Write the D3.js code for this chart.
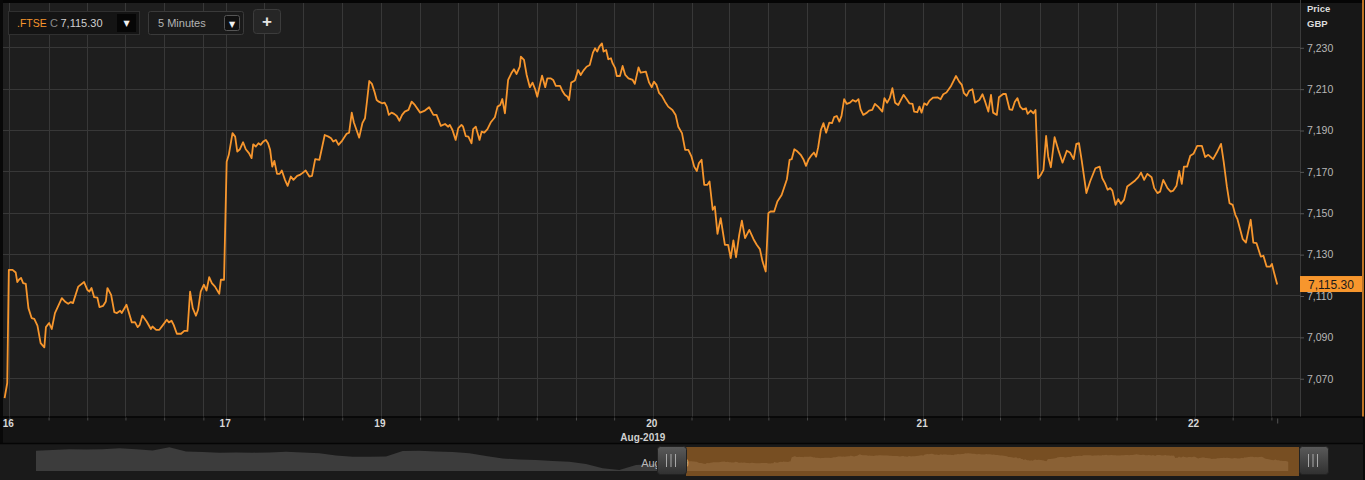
<!DOCTYPE html>
<html><head><meta charset="utf-8">
<script src="https://cdn.jsdelivr.net/npm/d3@7"></script>
<style>
html,body{margin:0;padding:0;background:#1a1a1a;overflow:hidden;}
svg{display:block;font-family:"Liberation Sans",Arial,sans-serif;}
</style></head><body>
<svg id="c" width="1365" height="480"></svg>
<script>
// minutes from first bar
const times = [0,5,8,15,21,24,27,31,35,40,45,51,56,62,68,75,78,84,89,95,108,115,120,125,129,139,150,156,160,164,169,175,179,186,191,194,201,207,212,218,221,230,240,246,251,255,260,268,276,279,286,292,299,306,310,315,319,325,333,339,345,350,355,361,365,370,376,381,386,391,397,405,408,414,
419,423,430,435,439,444,450,455,461,466,469,474,479,483,488,493,497,501,505,509,514,519,523,529,534,540,545,552,557,560,568,575,580,586,594,604,611,616,620,625,630,637,645,650,655,659,664,669,675,680,684,688,693,698,702,706,712,717,721,725,730,735,740,745,750,755,762,768,774,784,793,801,809,815,823,831,837,
840,845,851,856,862,865,870,875,881,884,889,896,900,905,911,917,925,930,935,939,944,950,956,961,966,972,974,980,985,991,996,1001,1005,1010,1014,1020,1024,1030,1035,1040,1048,1053,1057,1062,1065,1069,1076,1082,1087,1092,1098,1104,1110,1114,1118,1122,1127,1130,1135,1139,1144,1147,1152,1155,1161,1166,1171,1177,1185,1189,1196,1200,1210,1216,1221,1225,1230,1235,1240,1246,1252,1260,1266,1271,1278,1284,1290,1296,1301,1306,1310,1315,1320,1326,1330,1336,1340,1345,1351,1359,1365,1370,1375,1380,1386,1391,1397,1405,1413,1419,1425,1430,1436,
1441,1445,1452,1458,1466,1476,1481,1485,1490,1496,1502,1507,1512,1517,1523,1527,1531,1535,1540,1545,1550,1556,1561,1565,1570,1575,1579,1584,1589,1595,1600,1606,1611,1615,1620,1627,1631,1637,1642,1648,1656,1660,1665,1670,1675,1680,1686,1696,1702,1707,1713,1716,1722,1726,1730,1735,1740,1745,1752,1760,1766,1771,1777,1785,1795,1801,1806,1810,1815,1820,1826,1831,1839,1845,1850,1856,1861,1865,1872,1876,1884,1889,1896,1901,1906,1911,1916,1921,1927,1930,1936,1941,1945,
1950,1955,1960,1965,1969,1974,1981,1988,1996,2004,2010,2017,2022,2027,2032,2041,2048,2058,2066,2071,2076,2081,2086,2090,2096,2101,2106,2112,2118,2125,2133,2139,2144,2150,2156,2164,2169,2175,2180,2186,2194,2200,2205,2211,2216,2221,2225,2231,2237,2243,2250,2259,2265,2271,2280,2287,2295,2300,2306,2311,2317,2322,2326,2336,2342,2347,2351,2356,2362,2370,2375,2381,2388,2391,2395,2401];
const prices = [7060.4,7067.7,7122.4,7122.4,7121.1,7116.5,7117.6,7118.5,7116.0,7115.6,7103.9,7099.1,7098.7,7095.4,7087.0,7084.9,7094.7,7096.7,7093.8,7101.5,7108.7,7106.8,7106.0,7106.8,7106.3,7114.3,7116.5,7112.8,7111.9,7113.6,7109.2,7109.0,7104.4,7105.0,7107.1,7113.6,7110.3,7102.0,7101.5,7102.6,7101.5,7105.5,7097.0,7097.1,7094.7,7095.8,7100.3,7097.4,7093.8,7095.0,7093.4,7093.4,7095.8,7098.3,7097.0,7097.8,7095.8,7091.5,7091.5,7092.9,7092.9,7111.9,7103.9,7100.2,7103.1,7111.9,7115.2,7112.4,7118.9,7116.0,7114.3,7110.8,7117.6,7117.6,
7174.7,7178.0,7188.5,7186.8,7179.6,7180.7,7184.1,7180.7,7178.8,7176.4,7183.1,7182.0,7183.6,7182.8,7184.4,7185.2,7183.6,7180.4,7172.3,7175.1,7168.8,7168.8,7170.4,7165.9,7163.0,7167.5,7165.9,7167.8,7168.3,7168.8,7170.4,7167.5,7167.8,7175.9,7175.6,7187.6,7186.8,7186.0,7184.4,7185.2,7182.8,7184.9,7188.1,7188.7,7198.4,7193.6,7190.0,7186.3,7193.3,7195.7,7204.5,7213.7,7212.3,7208.4,7204.5,7203.7,7202.9,7203.2,7201.3,7197.3,7198.4,7197.8,7196.8,7194.5,7197.3,7198.9,7199.7,7203.7,7202.1,7198.4,7199.4,7201.0,7197.3,7197.3,7192.0,7192.9,7191.6,
7192.5,7190.0,7185.2,7190.9,7192.5,7191.6,7187.1,7186.8,7183.6,7190.4,7191.6,7185.2,7189.2,7188.7,7190.4,7193.6,7196.2,7201.3,7202.1,7205.0,7198.1,7214.2,7217.4,7219.4,7217.1,7220.6,7225.5,7223.9,7216.6,7210.7,7212.9,7209.7,7206.1,7211.8,7216.3,7210.7,7215.0,7215.0,7214.2,7211.3,7211.3,7208.6,7207.0,7206.1,7204.5,7212.9,7213.9,7219.0,7216.6,7218.7,7220.6,7221.4,7227.4,7229.5,7227.9,7230.3,7231.9,7227.9,7228.7,7224.2,7224.7,7222.3,7219.9,7216.1,7216.1,7221.0,7216.6,7215.0,7214.2,7212.3,7220.3,7217.7,7218.2,7212.9,7210.7,7213.4,7211.8,7207.8,7206.5,7203.7,7201.3,7199.7,7197.3,7191.6,7188.5,7180.4,7180.4,7177.1,7172.3,7170.2,7174.0,7175.6,7163.5,7163.5,7165.1,7151.4,7153.0,7139.8,7147.4,7134.5,7134.5,7128.1,7136.6,7128.5,7139.3,7146.2,7137.7,7141.7,7137.2,7134.5,7132.4,7126.4,7121.6,
7149.8,7150.6,7150.6,7155.4,7158.6,7166.2,7175.6,7175.9,7180.7,7179.6,7178.0,7175.9,7172.7,7175.9,7178.0,7179.1,7177.1,7181.7,7190.0,7193.3,7188.7,7193.6,7193.3,7196.2,7196.8,7194.1,7196.8,7204.9,7202.6,7203.2,7204.5,7203.7,7204.9,7200.0,7197.3,7198.4,7199.4,7199.7,7202.6,7201.3,7198.9,7205.4,7203.2,7205.4,7210.2,7203.2,7202.1,7207.0,7204.9,7202.9,7202.6,7198.9,7198.6,7201.3,7198.4,7202.9,7202.1,7204.2,7205.7,7205.8,7204.9,7207.3,7208.1,7211.0,7216.1,7213.4,7211.8,7207.8,7206.5,7209.0,7209.7,7203.2,7204.5,7207.3,7203.7,7198.9,7207.0,7198.4,7197.3,7205.8,7207.4,7207.4,7200.0,7199.7,7203.7,7205.4,7201.3,7200.0,7200.5,7197.8,7199.4,7198.1,7199.7,
7166.7,7168.3,7170.7,7187.1,7177.1,7172.0,7186.5,7180.4,7174.2,7180.0,7179.1,7175.9,7183.3,7183.6,7175.6,7159.5,7165.1,7171.5,7172.3,7166.7,7164.3,7161.1,7161.9,7160.7,7153.8,7156.6,7154.3,7156.2,7162.7,7164.0,7165.6,7167.2,7169.4,7165.9,7168.8,7167.2,7161.9,7159.5,7160.2,7165.9,7161.9,7160.2,7160.7,7163.0,7170.2,7164.0,7172.3,7172.3,7177.5,7178.5,7182.3,7182.3,7176.9,7178.0,7175.9,7179.1,7183.3,7174.7,7162.7,7154.6,7153.8,7149.0,7146.9,7137.2,7135.6,7141.7,7146.6,7135.6,7135.3,7128.8,7129.2,7124.0,7124.0,7125.3,7121.1,7115.3];

const gridTimes = [9,83,156,228,301,375,418,490,563,637,710,784,856,930,1004,1078,1150,1223,1296,1367,1441,1514,1586,1659,1733,1806,1878,1953,2026,2098,2172,2245,2317,2390];
const dayTicks = [9,418,710,1223,1733,2245];
const dayLabels = ["16","17","19","20","21","22"];
const monthLabel = "Aug-2019";
const priceTicks = [7070,7090,7110,7130,7150,7170,7190,7210,7230];
const lastPrice = 7115.30;
const navHistory = [7266,7276,7285,7282,7285,7299,7285,7269,7313,7255,7248,7239,7241,7239,7241,7252,7241,7230,7200,7184,7184,7187,7262,7266,7255,7248,7230,7194,7159,7146,7139,7125,7115,7084,7025,7002,7070,7084,7098,7080];

const ORANGE = "#f7962d";
const svg = d3.select("#c");
const L = 3, R = 1300, T = 3, B = 416.5;

const data = times.map((t,i)=>({t, p: prices[i]}));
const x = d3.scaleLinear().domain([-3, 2444]).range([L, R]);
const y = d3.scaleLinear().domain([7051.5, 7251.4]).range([B, T]);

// backgrounds
svg.append("rect").attr("width",1365).attr("height",480).attr("fill","#1a1a1a");
svg.append("rect").attr("x",0).attr("y",0).attr("width",1365).attr("height",3).attr("fill","#050505");
svg.append("rect").attr("x",0).attr("y",0).attr("width",3).attr("height",443).attr("fill","#080808");
svg.append("rect").attr("x",L).attr("y",T).attr("width",R-L).attr("height",B-T).attr("fill","#1e1e1e");
svg.append("rect").attr("x",R).attr("y",T).attr("width",62).attr("height",B-T).attr("fill","#171717");
// bottom axis band
svg.append("rect").attr("x",3).attr("y",B).attr("width",1360).attr("height",443-B).attr("fill","#141414");
svg.append("line").attr("x1",0).attr("x2",1363).attr("y1",B+0.5).attr("y2",B+0.5).attr("stroke","#050505").attr("stroke-width",1.5);
svg.append("line").attr("x1",0).attr("x2",1365).attr("y1",443.5).attr("y2",443.5).attr("stroke","#050505").attr("stroke-width",1.5);
svg.append("rect").attr("x",1363).attr("y",0).attr("width",2).attr("height",480).attr("fill","#0a0a0a");

// gridlines
const grid = svg.append("g");
grid.selectAll(".h").data(priceTicks).join("line")
  .attr("x1",L).attr("x2",R).attr("y1",d=>Math.round(y(d))+0.5).attr("y2",d=>Math.round(y(d))+0.5)
  .attr("stroke","#383838").attr("stroke-width",1);
grid.selectAll(".v").data(gridTimes).join("line")
  .attr("x1",d=>Math.round(x(d))+0.5).attr("x2",d=>Math.round(x(d))+0.5).attr("y1",T).attr("y2",B)
  .attr("stroke","#383838").attr("stroke-width",1);

// bottom axis small ticks
const tickAxis = d3.axisBottom(x).tickValues(gridTimes).tickSize(3).tickFormat("");
const gt = svg.append("g").attr("transform",`translate(0,${B+1})`).call(tickAxis);
gt.select(".domain").remove();
gt.selectAll("line").attr("stroke","#4a4a4a");

// day labels
const dayAxis = d3.axisBottom(x).tickValues(dayTicks).tickSize(0).tickPadding(3)
  .tickFormat((d,i)=>dayLabels[i]);
const gd = svg.append("g").attr("transform",`translate(-1.5,${B})`).call(dayAxis);
gd.select(".domain").remove();
gd.selectAll("text").attr("fill","#d8d8d8").attr("font-size",10).attr("font-weight","bold")
  .attr("font-family","Liberation Sans, Arial, sans-serif");
svg.append("text").attr("x",x(dayTicks[3])-10).attr("y",441).attr("text-anchor","middle")
  .attr("fill","#d0d0d0").attr("font-size",10).attr("font-weight","bold").text(monthLabel);
// last point marker tick
svg.append("line").attr("x1",x(times[times.length-1])+0.5).attr("x2",x(times[times.length-1])+0.5)
  .attr("y1",B+2).attr("y2",B+7).attr("stroke","#555");

// right axis
svg.append("line").attr("x1",R+0.5).attr("x2",R+0.5).attr("y1",0).attr("y2",B).attr("stroke","#3a3a3a");
const yAxis = d3.axisRight(y).tickValues(priceTicks).tickSize(4).tickPadding(3).tickFormat(d3.format(","));
const gy = svg.append("g").attr("transform",`translate(${R},0.5)`).call(yAxis);
gy.select(".domain").remove();
gy.selectAll("line").attr("stroke","#555");
gy.selectAll("text").attr("fill","#b8b8b8").attr("font-size",10.5).attr("font-family","Liberation Sans, Arial, sans-serif");
svg.append("text").attr("x",1307).attr("y",12).attr("fill","#dcdcdc").attr("font-size",9.5).attr("font-weight","bold").text("Price");
svg.append("text").attr("x",1307).attr("y",27).attr("fill","#dcdcdc").attr("font-size",9.5).attr("font-weight","bold").text("GBP");
svg.append("line").attr("x1",1363).attr("x2",1363).attr("y1",0).attr("y2",B).attr("stroke",ORANGE).attr("stroke-width",1.5);

// main line
const line = d3.line().x(d=>x(d.t)).y(d=>y(d.p));
svg.append("path").datum(data).attr("d",line).attr("fill","none")
  .attr("stroke",ORANGE).attr("stroke-width",1.8).attr("stroke-linejoin","round");

// last value label
const ly = y(lastPrice);
svg.append("rect").attr("x",R).attr("y",ly-8.5).attr("width",62).attr("height",16).attr("fill",ORANGE);
svg.append("text").attr("x",1308).attr("y",ly).attr("dy","0.36em").attr("fill","#1a1a1a")
  .attr("font-size",12).text(d3.format(",.2f")(lastPrice));

// navigator
const NB = 471, NT = 446;
const yNav = d3.scaleLinear().domain([6988, 7330]).range([NB, NT]);
const xHist = d3.scaleLinear().domain([0, navHistory.length-1]).range([36, 686]);
const xNavMain = d3.scaleLinear().domain(x.domain()).range([686, 1299]);
const histArea = d3.area().x((d,i)=>xHist(i)).y0(NB).y1(d=>yNav(d));
const mainArea = d3.area().x(d=>xNavMain(d.t)).y0(NB).y1(d=>yNav(d.p));
svg.append("path").datum(navHistory).attr("d",histArea).attr("fill","#3c3c3c");
svg.append("path").datum(data).attr("d",mainArea).attr("fill","#3c3c3c");
svg.append("text").attr("x",665).attr("y",467).attr("text-anchor","middle").attr("fill","#b8b8b8")
  .attr("font-size",11).text(monthLabel);
svg.append("rect").attr("x",686).attr("y",447).attr("width",613).attr("height",29)
  .attr("fill",ORANGE).attr("opacity",0.42);

const defs = svg.append("defs");
const gr = defs.append("linearGradient").attr("id","hg").attr("x1",0).attr("x2",0).attr("y1",0).attr("y2",1);
gr.append("stop").attr("offset","0%").attr("stop-color","#5a5a5a");
gr.append("stop").attr("offset","100%").attr("stop-color","#303030");
[657, 1299].forEach(hx=>{
  svg.append("rect").attr("x",hx+0.5).attr("y",446.5).attr("width",29).attr("height",28).attr("rx",3)
    .attr("fill","url(#hg)").attr("stroke","#222");
  [9.5,14,18.5].forEach(o=>{
    svg.append("line").attr("x1",hx+o).attr("x2",hx+o).attr("y1",454).attr("y2",467)
      .attr("stroke","#a8a8a8").attr("stroke-width",1);
  });
});

// top-left controls
const ctl = svg.append("g");
ctl.append("rect").attr("x",8.5).attr("y",11.5).attr("width",131).attr("height",23)
  .attr("fill","#141414").attr("stroke","#303030");
ctl.append("text").attr("x",17).attr("y",27).attr("fill",ORANGE).attr("font-size",10.5).text(".FTSE");
ctl.append("text").attr("x",50).attr("y",27).attr("fill","#8a8a8a").attr("font-size",11).text("C");
ctl.append("text").attr("x",60.5).attr("y",27).attr("fill","#d0d0d0").attr("font-size",11).text("7,115.30");
ctl.append("rect").attr("x",117).attr("y",14).attr("width",19).attr("height",18).attr("fill","#060606");
ctl.append("text").attr("x",126.5).attr("y",26).attr("text-anchor","middle").attr("fill","#f0f0f0")
  .attr("font-size",8).attr("font-family","DejaVu Sans").text("▼");
ctl.append("rect").attr("x",148.5).attr("y",11.5).attr("width",95).attr("height",23).attr("rx",2)
  .attr("fill","#1a1a1a").attr("stroke","#3a3a3a");
ctl.append("text").attr("x",158).attr("y",27).attr("fill","#b4b4b4").attr("font-size",11).text("5 Minutes");
ctl.append("rect").attr("x",224.5).attr("y",15.5).attr("width",15).attr("height",15).attr("rx",2)
  .attr("fill","#101010").attr("stroke","#555");
ctl.append("text").attr("x",232).attr("y",26.5).attr("text-anchor","middle").attr("fill","#f0f0f0")
  .attr("font-size",8).attr("font-family","DejaVu Sans").text("▼");
ctl.append("rect").attr("x",253.5).attr("y",9.5).attr("width",27).attr("height",24).attr("rx",3)
  .attr("fill","#262626").attr("stroke","#3c3c3c");
ctl.append("text").attr("x",267).attr("y",27).attr("text-anchor","middle").attr("fill","#e4e4e4")
  .attr("font-size",17).attr("font-weight","bold").text("+");
</script>
</body></html>
